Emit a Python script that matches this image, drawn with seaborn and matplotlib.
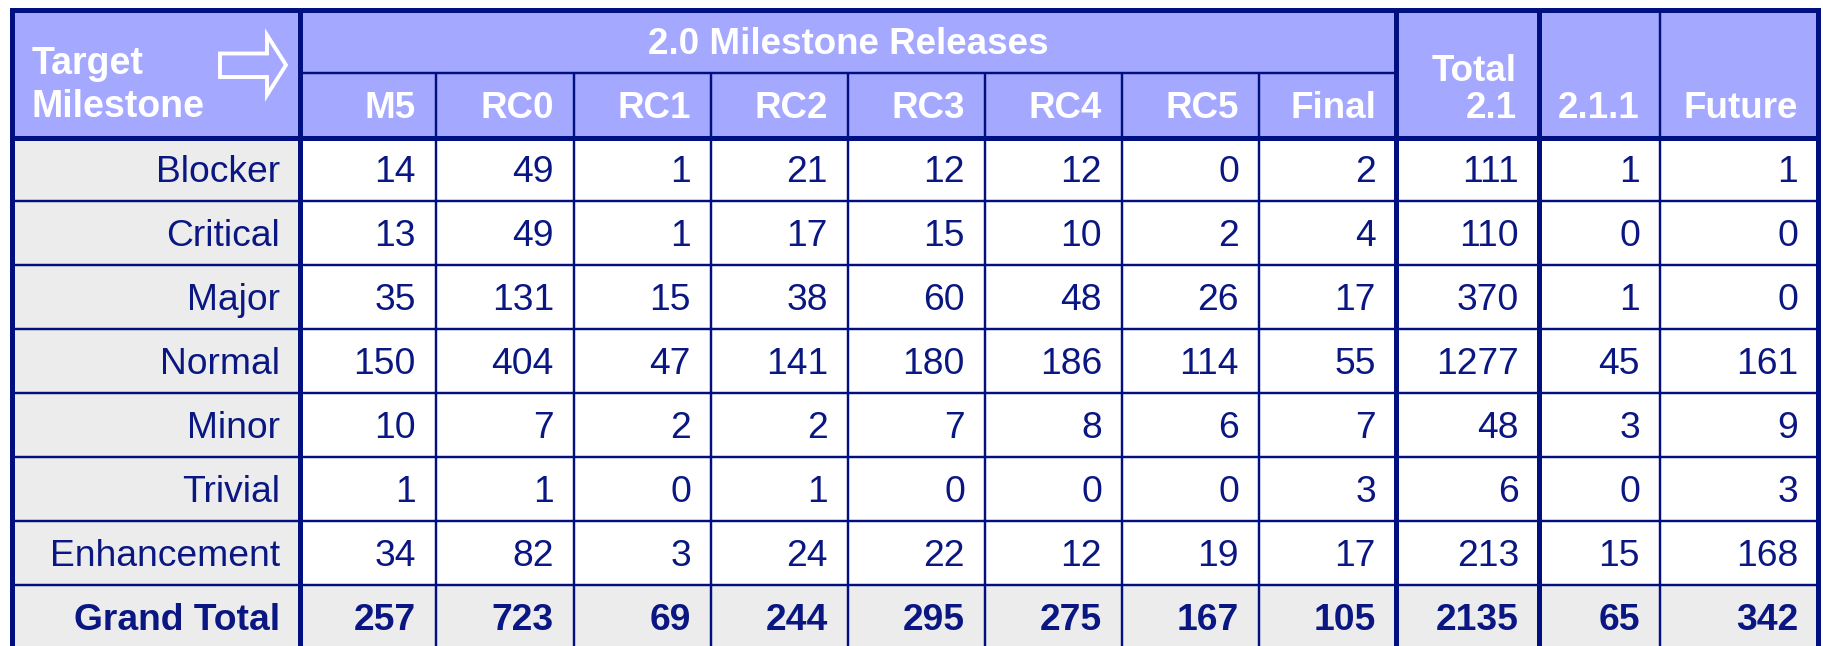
import matplotlib.pyplot as plt
import seaborn as sns
from matplotlib.patches import Rectangle, Polygon

# dados da tabela (contagem de bugs por severidade e milestone)
severidades = ['Blocker', 'Critical', 'Major', 'Normal', 'Minor', 'Trivial', 'Enhancement']
marcos_20 = ['M5', 'RC0', 'RC1', 'RC2', 'RC3', 'RC4', 'RC5', 'Final']
outros = ['2.1.1', 'Future']

m5 = [14, 13, 35, 150, 10, 1, 34]
rc0 = [49, 49, 131, 404, 7, 1, 82]
rc1 = [1, 1, 15, 47, 2, 0, 3]
rc2 = [21, 17, 38, 141, 2, 1, 24]
rc3 = [12, 15, 60, 180, 7, 0, 22]
rc4 = [12, 10, 48, 186, 8, 0, 12]
rc5 = [0, 2, 26, 114, 6, 0, 19]
final = [2, 4, 17, 55, 7, 3, 17]
total_21 = [111, 110, 370, 1277, 48, 6, 213]
v211 = [1, 0, 1, 45, 3, 0, 15]
future = [1, 0, 0, 161, 9, 3, 168]
grand_total = [257, 723, 69, 244, 295, 275, 167, 105, 2135, 65, 342]

colunas = [m5, rc0, rc1, rc2, rc3, rc4, rc5, final, total_21, v211, future]

# cores
azul = '#001080'
texto = '#0a1782'
lilas = '#a4a8ff'
cinza = '#ececec'

sns.set_theme(style='white')
plt.rcParams['font.family'] = ['Liberation Sans', 'DejaVu Sans']

# layout em pixels
x_edges = [12, 300, 436, 574, 711, 848, 985, 1122, 1259, 1396, 1539, 1660, 1818]
y_top, y_sub, y_head = 9.5, 73, 137.5
row_h = 63.9
n_rows = len(severidades) + 1
y_rows = [y_head + i * row_h for i in range(n_rows + 1)]
y_bot = y_rows[-1]
pad = 20
thick, thin = 3.6, 1.75

fig = plt.figure(figsize=(18.24, 6.46), dpi=100)
ax = fig.add_axes([0, 0, 1, 1])
ax.set_xlim(0, 1824)
ax.set_ylim(646, 0)
ax.axis('off')

# preenchimentos
ax.add_patch(Rectangle((x_edges[0], y_top), x_edges[-1] - x_edges[0], y_head - y_top, color=lilas, lw=0))
ax.add_patch(Rectangle((x_edges[0], y_head), x_edges[1] - x_edges[0], y_bot - y_head, color=cinza, lw=0))
ax.add_patch(Rectangle((x_edges[0], y_rows[-2]), x_edges[-1] - x_edges[0], row_h, color=cinza, lw=0))

# linhas finas
ax.hlines(y_sub, x_edges[1], x_edges[9], color=azul, lw=thin)
ax.hlines(y_rows[1:-1], x_edges[0], x_edges[-1], color=azul, lw=thin)
ax.vlines(x_edges[2:9], y_sub, y_bot, color=azul, lw=thin)
ax.vlines(x_edges[11], y_top, y_bot, color=azul, lw=thin)

# linhas grossas
for x in [x_edges[0], x_edges[1], x_edges[9], x_edges[10], x_edges[-1]]:
    ax.plot([x, x], [y_top, y_bot], color=azul, lw=thick, solid_capstyle='projecting')
for y in [y_top, y_head]:
    ax.plot([x_edges[0], x_edges[-1]], [y, y], color=azul, lw=thick, solid_capstyle='projecting')

# seta do cabeçalho
seta = [(220, 53.5), (267, 53.5), (267, 35), (286, 65), (267, 95), (267, 77), (220, 77)]
ax.add_patch(Polygon(seta, closed=True, facecolor='none', edgecolor='white', lw=2.8, joinstyle='miter'))

# textos do cabeçalho
hfs = 26.5
ax.text(32, 74, 'Target', ha='left', va='baseline', fontsize=27, weight='bold', color='white')
ax.text(32, 117, 'Milestone', ha='left', va='baseline', fontsize=27, weight='bold', color='white')
ax.text((x_edges[1] + x_edges[9]) / 2, 53.5, '2.0 Milestone Releases', ha='center', va='baseline',
        fontsize=hfs, weight='bold', color='white')
for j, nome in enumerate(marcos_20):
    ax.text(x_edges[j + 2] - pad, 117.5, nome, ha='right', va='baseline', fontsize=hfs, weight='bold', color='white')
ax.text(x_edges[10] - 22, 81, 'Total', ha='right', va='baseline', fontsize=hfs, weight='bold', color='white')
ax.text(x_edges[10] - 22, 118, '2.1', ha='right', va='baseline', fontsize=hfs, weight='bold', color='white')
for j, nome in enumerate(outros):
    ax.text(x_edges[j + 11] - pad, 118, nome, ha='right', va='baseline', fontsize=hfs, weight='bold', color='white')

# corpo da tabela
bfs = 26.8
for i, sev in enumerate(severidades):
    base = y_rows[i] + row_h / 2 + 13
    ax.text(x_edges[1] - pad, base, sev, ha='right', va='baseline', fontsize=bfs, color=texto)
    for j, col in enumerate(colunas):
        ax.text(x_edges[j + 2] - pad, base, str(col[i]), ha='right', va='baseline', fontsize=bfs, color=texto)

base = y_rows[-2] + row_h / 2 + 13
ax.text(x_edges[1] - pad, base, 'Grand Total', ha='right', va='baseline', fontsize=bfs, weight='bold', color=texto)
for j, v in enumerate(grand_total):
    ax.text(x_edges[j + 2] - pad, base, str(v), ha='right', va='baseline', fontsize=bfs, weight='bold', color=texto)

fig.savefig('out.png', dpi=100)
